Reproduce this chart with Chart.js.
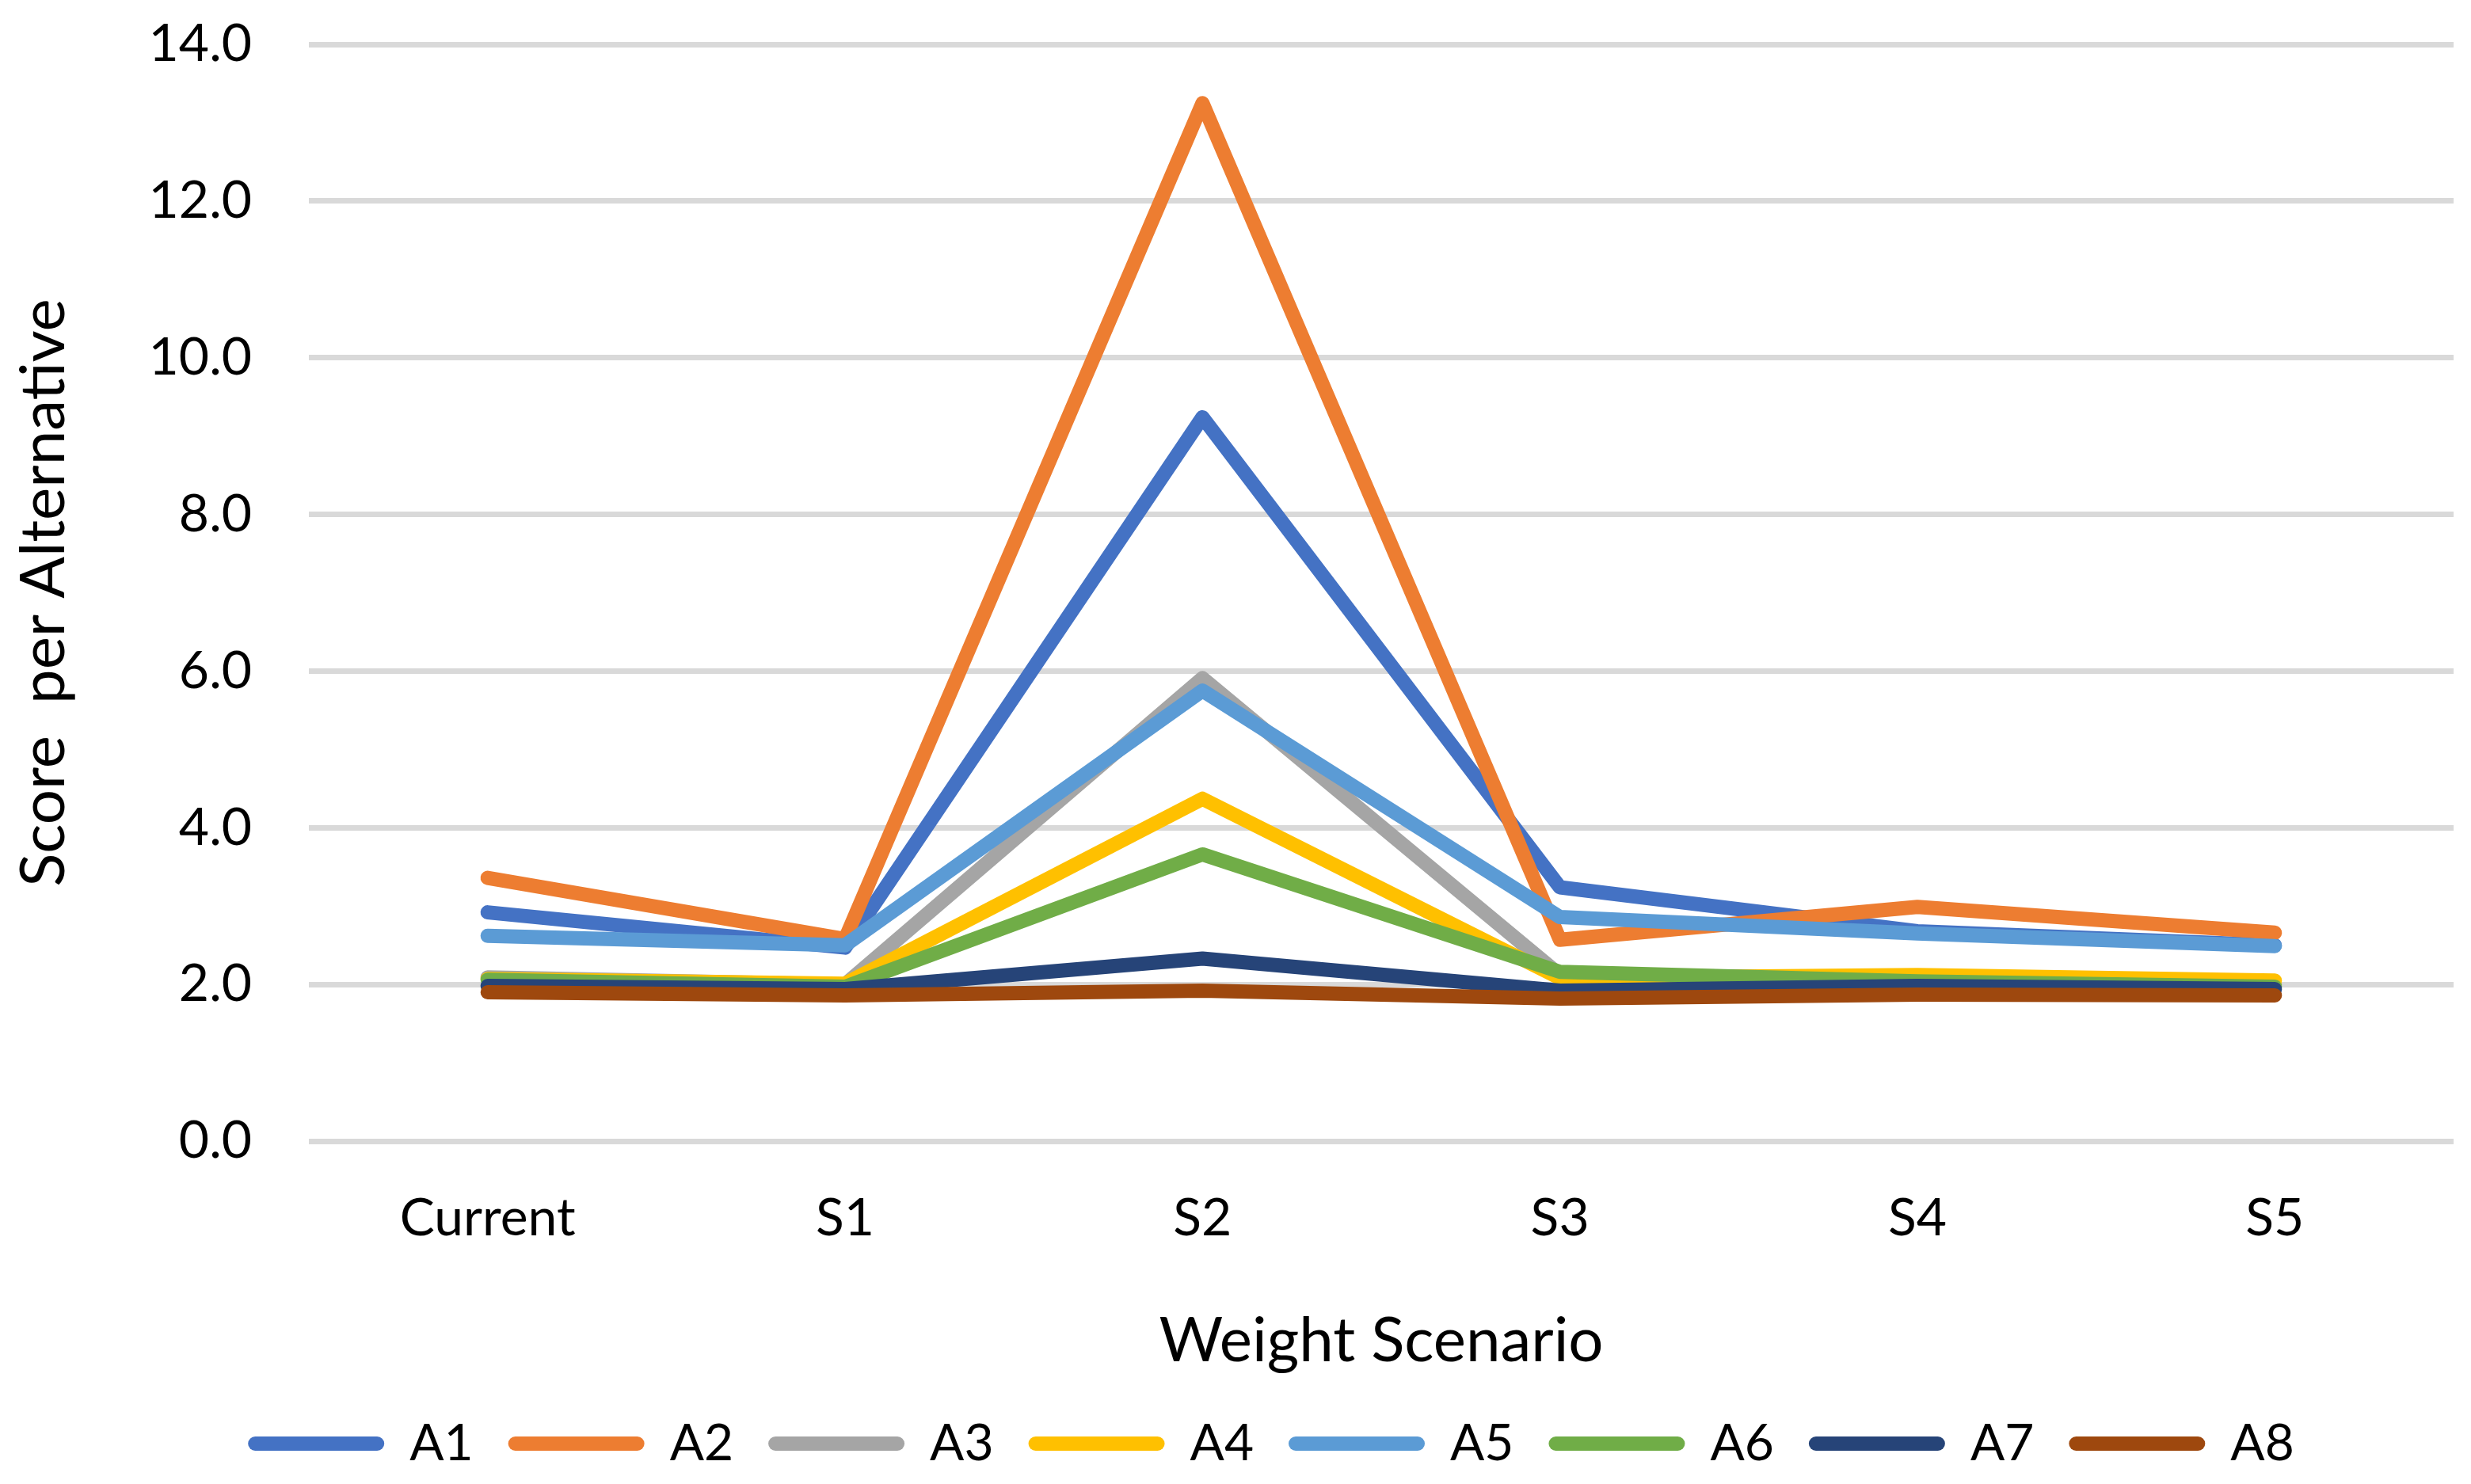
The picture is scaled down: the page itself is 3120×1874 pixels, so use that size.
<!DOCTYPE html>
<html>
<head>
<meta charset="utf-8">
<script src="https://cdn.jsdelivr.net/npm/chart.js@4"></script>
<style>
  html, body { margin: 0; padding: 0; background: #fff; }
  #wrap { width: 3120px; height: 1874px; }
</style>
</head>
<body>
<div id="wrap"><canvas id="scoreChart"></canvas></div>
<script>
// categories and series
const scenarios = ['Current', 'S1', 'S2', 'S3', 'S4', 'S5'];
const seriesNames = ['A1', 'A2', 'A3', 'A4', 'A5', 'A6', 'A7', 'A8'];
const a1 = [2.92, 2.47, 9.24, 3.24, 2.68, 2.50];
const a2 = [3.36, 2.58, 13.25, 2.57, 2.99, 2.66];
const a3 = [2.09, 2.00, 5.91, 2.12, 2.08, 2.00];
const a4 = [2.07, 2.01, 4.37, 2.08, 2.12, 2.05];
const a5 = [2.62, 2.50, 5.75, 2.86, 2.65, 2.49];
const a6 = [2.06, 1.97, 3.66, 2.16, 2.04, 1.97];
const a7 = [1.98, 1.94, 2.33, 1.92, 1.98, 1.94];
const a8 = [1.90, 1.86, 1.92, 1.82, 1.87, 1.86];
const yTicks = [0, 2, 4, 6, 8, 10, 12, 14];

const seriesValues = [a1, a2, a3, a4, a5, a6, a7, a8];
const colors = ['#4472C4', '#ED7D31', '#A5A5A5', '#FFC000', '#5B9BD5', '#70AD47', '#264478', '#9E480E'];

const FONT = 'Lato, "Open Sans", sans-serif';

const datasets = seriesNames.map((name, i) => ({
  label: name,
  data: seriesValues[i],
  borderColor: colors[i],
  backgroundColor: colors[i],
  borderWidth: 18,
  borderJoinStyle: 'round',
  borderCapStyle: 'round',
  pointRadius: 0,
  tension: 0,
  fill: false,
  order: seriesNames.length - 1 - i, // later series on top, like Excel
}));

// keep the legend strip at a fixed height
const legendHeight = {
  id: 'legendHeight',
  beforeLayout(chart) {
    const lg = chart.legend;
    if (lg && !lg._fixed) {
      const fit = lg.fit;
      lg.fit = function () { fit.call(this); this.height = 127; };
      lg._fixed = true;
    }
  }
};

const ctx = document.getElementById('scoreChart').getContext('2d');

new Chart(ctx, {
  type: 'line',
  data: { labels: scenarios, datasets: datasets },
  plugins: [legendHeight],
  options: {
    responsive: true,
    maintainAspectRatio: false,
    animation: false,
    events: [],
    layout: { padding: { top: 0, right: 22, bottom: 0, left: 112 } },
    plugins: {
      tooltip: { enabled: false },
      legend: {
        position: 'bottom',
        labels: {
          color: '#000',
          font: { family: FONT, size: 64 },
          boxWidth: 172,
          boxHeight: 18,
          useBorderRadius: true,
          borderRadius: 9,
          padding: 44,
          sort: (a, b) => a.datasetIndex - b.datasetIndex,
          generateLabels: chart =>
            Chart.defaults.plugins.legend.labels.generateLabels(chart).map(l => ({ ...l, lineWidth: 0 }))
        }
      }
    },
    scales: {
      x: {
        offset: true,
        grid: { display: false },
        border: { display: false },
        ticks: { color: '#000', font: { family: FONT, size: 66 }, padding: 50, maxRotation: 0 },
        title: {
          display: true,
          text: 'Weight Scenario',
          color: '#000',
          font: { family: FONT, size: 78 },
          padding: { top: 0, bottom: 6 }
        },
        afterFit: scale => { scale.height = 306; }
      },
      y: {
        min: 0,
        max: 14,
        afterBuildTicks: scale => { scale.ticks = yTicks.map(v => ({ value: v })); },
        grid: { color: '#D9D9D9', lineWidth: 7, drawTicks: false },
        border: { display: false },
        ticks: {
          color: '#000',
          font: { family: FONT, size: 66 },
          padding: 72,
          callback: v => Number(v).toFixed(1)
        },
        title: {
          display: true,
          text: 'Score  per Alternative',
          color: '#000',
          font: { family: FONT, size: 78 },
          padding: { top: -103, bottom: 0 }
        },
        afterFit: scale => {
          scale.width = 278;
          scale.paddingTop = 56;
        }
      }
    }
  }
});
</script>
</body>
</html>
